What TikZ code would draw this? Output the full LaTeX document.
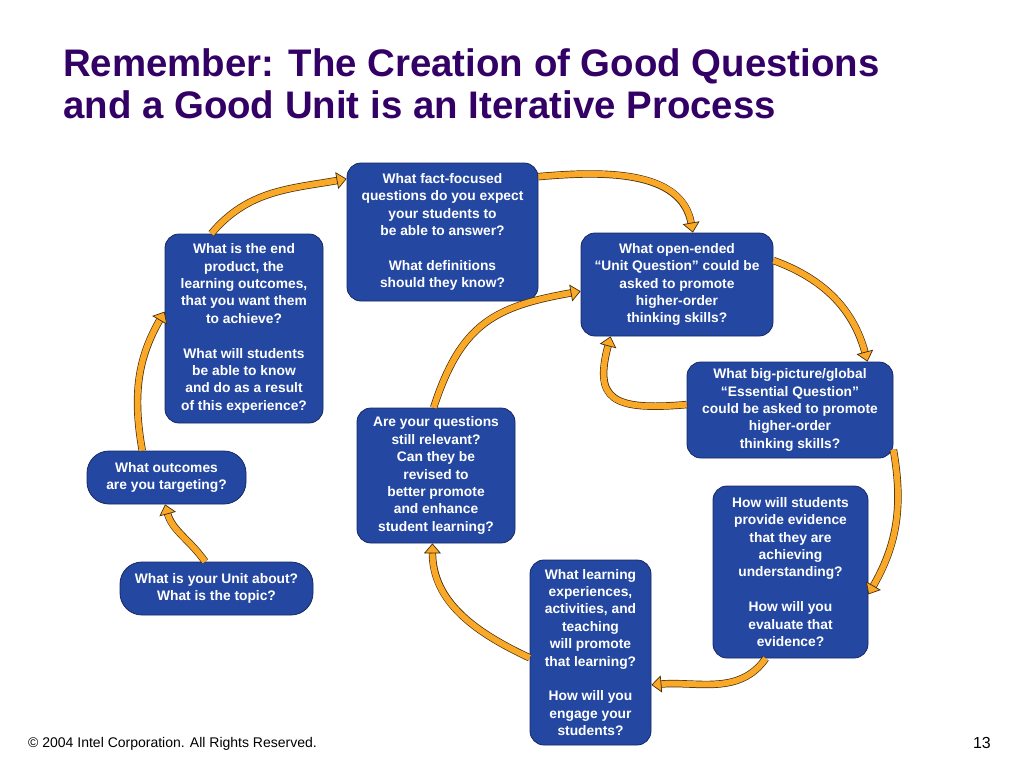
\documentclass[tikz,border=0pt]{standalone}
\usepackage{fontspec}
\setmainfont{Liberation Sans}
\usetikzlibrary{arrows.meta}

\definecolor{qblue}{RGB}{36,72,162}
\definecolor{qline}{RGB}{22,40,100}
\definecolor{arrorange}{RGB}{249,168,40}
\definecolor{arrline}{RGB}{70,45,10}
\definecolor{titlepurple}{RGB}{51,0,102}

\begin{document}
\begin{tikzpicture}
    [x=1pt,y=1pt,
     qbox/.style={rectangle,rounded corners=14pt,draw=qline,line width=0.8pt,fill=qblue,text=white,align=center,inner sep=0pt,font=\bfseries\fontsize{13.8}{17.4}\selectfont},
     pill/.style={qbox,rounded corners=22pt},
     cyc/.style={draw=arrorange,line width=6pt,-{Triangle[length=10pt,width=17pt,color=arrline,fill=arrorange,line width=0.7pt]},
                 preaction={draw=arrline,line width=7.4pt,-,shorten >=9pt}}]
    \useasboundingbox (0,0) rectangle (1024,-768);

    % title and footer
    \node[anchor=base west,inner sep=0pt,text=titlepurple,font=\bfseries\fontsize{38.4}{41}\selectfont] (title1) at (63,-77) {Remember: The Creation of Good Questions};
    \node[anchor=base west,inner sep=0pt,text=titlepurple,font=\bfseries\fontsize{38.4}{41}\selectfont] (title2) at (63,-118) {and a Good Unit is an Iterative Process};
    \node[anchor=base west,inner sep=0pt,font=\fontsize{14}{16}\selectfont] (copy) at (28,-747) {© 2004 Intel Corporation. All Rights Reserved.};
    \node[anchor=base east,inner sep=0pt,font=\fontsize{16}{18}\selectfont] (pgnum) at (991,-748) {13};

    % question boxes
    \node[qbox,minimum width=191pt,minimum height=138pt] (fact) at (442.5,-232) {What fact-focused\\questions do you expect\\your students to\\be able to answer?\\[17.4pt]What definitions\\should they know?};
    \node[qbox,minimum width=158pt,minimum height=189pt] (endp) at (244,-328.5) {What is the end\\product, the\\learning outcomes,\\that you want them\\to achieve?\\[17.4pt]What will students\\be able to know\\and do as a result\\of this experience?};
    \node[qbox,minimum width=192pt,minimum height=103pt] (open) at (677,-284.5) {What open-ended\\“Unit Question” could be\\asked to promote\\higher-order\\thinking skills?};
    \node[qbox,minimum width=206pt,minimum height=96pt] (ess) at (790,-410) {What big-picture/global\\“Essential Question”\\could be asked to promote\\higher-order\\thinking skills?};
    \node[qbox,minimum width=155pt,minimum height=172pt] (evid) at (790.5,-572) {How will students\\provide evidence\\that they are\\achieving\\understanding?\\[17.4pt]How will you\\evaluate that\\evidence?};
    \node[qbox,minimum width=121pt,minimum height=185pt] (learn) at (590.5,-652.5) {What learning\\experiences,\\activities, and\\teaching\\will promote\\that learning?\\[17.4pt]How will you\\engage your\\students?};
    \node[qbox,minimum width=158pt,minimum height=135pt] (relev) at (436,-475.5) {Are your questions\\still relevant?\\Can they be\\revised to\\better promote\\and enhance\\student learning?};
    \node[pill,minimum width=159pt,minimum height=53pt] (outc) at (166.5,-477.5) {What outcomes\\are you targeting?};
    \node[pill,minimum width=193pt,minimum height=53pt] (topic) at (216.5,-588.5) {What is your Unit about?\\What is the topic?};

    % the cycle
    \draw[cyc] (topic.113) to[out=125,in=-75] (outc.267);
    \draw[cyc] (outc.132) to[out=100,in=240] (endp.168);
    \draw[cyc] (endp.109) to[out=50,in=190] (fact.151);
    \draw[cyc] (fact.30) to[out=5,in=100] (open.73);
    \draw[cyc] (open.14) to[out=-20,in=105] (ess.32);
    \draw[cyc] (ess.177) .. controls +(185:75) and +(255:65) .. (open.218);
    \draw[cyc] (ess.339) to[out=-80,in=60] (evid.344);
    \draw[cyc] (evid.254) to[out=235,in=5] (learn.332);
    \draw[cyc] (learn.185) to[out=155,in=-90] (relev.267);
    \draw[cyc] (relev.92) to[out=72,in=190,looseness=1.2] (open.184);
\end{tikzpicture}
\end{document}
